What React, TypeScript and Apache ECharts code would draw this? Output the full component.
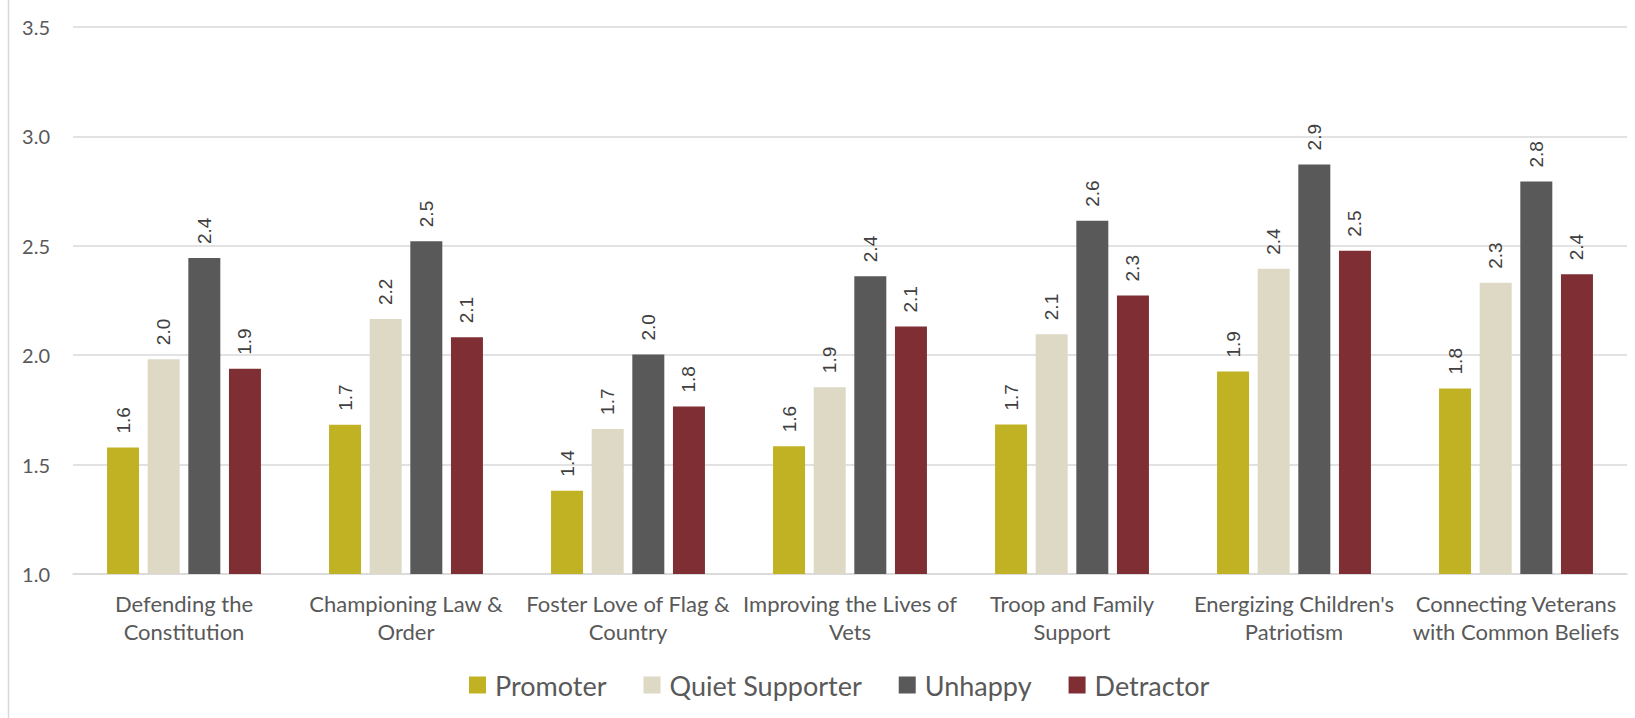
import React, { useEffect, useRef } from "react";
import * as echarts from "echarts";

const categories = [
  "Defending the\nConstitution",
  "Championing Law &\nOrder",
  "Foster Love of Flag &\nCountry",
  "Improving the Lives of\nVets",
  "Troop and Family\nSupport",
  "Energizing Children's\nPatriotism",
  "Connecting Veterans\nwith Common Beliefs",
];

const seriesNames = ["Promoter", "Quiet Supporter", "Unhappy", "Detractor"];

const promoter = [1.578, 1.682, 1.381, 1.584, 1.683, 1.925, 1.848];
const quietSupporter = [1.982, 2.165, 1.663, 1.854, 2.096, 2.395, 2.331];
const unhappy = [2.444, 2.521, 2.003, 2.361, 2.614, 2.872, 2.794];
const detractor = [1.938, 2.082, 1.765, 2.131, 2.273, 2.477, 2.37];

const seriesValues = [promoter, quietSupporter, unhappy, detractor];
const seriesColors = ["#C0B223", "#DDD9C4", "#595959", "#7F2E34"];

const yTicks = { min: 1.0, max: 3.5, interval: 0.5 };

export default function App() {
  const ref = useRef<HTMLDivElement>(null);

  useEffect(() => {
    if (!ref.current) return;
    const chart = echarts.init(ref.current, null, { renderer: "svg" });
    const option = {
      animation: false,
      backgroundColor: "#FFFFFF",
      grid: { left: 73, right: 8, top: 27, bottom: 144, containLabel: false },
      legend: {
        data: seriesNames,
        left: 464,
        top: 665,
        itemWidth: 17,
        itemHeight: 17,
        itemGap: 37,
        icon: "rect",
        textStyle: {
          fontFamily: "Lato",
          fontSize: 27,
          color: "#595959",
          padding: [0, 0, 0, 4],
          lineHeight: 30,
        },
      },
      xAxis: {
        type: "category",
        data: categories,
        axisTick: { show: false },
        axisLine: { show: true, lineStyle: { color: "#D9D9D9", width: 1.5 } },
        axisLabel: {
          interval: 0,
          margin: 15,
          fontFamily: "Lato",
          fontSize: 22,
          lineHeight: 28,
          color: "#595959",
        },
      },
      yAxis: {
        type: "value",
        min: yTicks.min,
        max: yTicks.max,
        interval: yTicks.interval,
        axisLine: { show: false },
        axisTick: { show: false },
        splitLine: { lineStyle: { color: "#D9D9D9", width: 1.5 } },
        axisLabel: {
          margin: 23,
          fontFamily: "Lato",
          fontSize: 20,
          color: "#595959",
          formatter: (v: number) => v.toFixed(1),
        },
      },
      graphic: [
        {
          type: "line",
          shape: { x1: 8.5, y1: 0, x2: 8.5, y2: 718 },
          style: { stroke: "#D9D9D9", lineWidth: 1.5 },
          silent: true,
        },
      ],
      series: seriesNames.map((name, i) => ({
        name,
        type: "bar",
        data: seriesValues[i],
        barWidth: 32,
        barGap: "27%",
        itemStyle: { color: seriesColors[i] },
        label: {
          show: true,
          position: "top",
          rotate: 90,
          align: "left",
          verticalAlign: "middle",
          distance: 14,
          fontFamily: "Liberation Sans",
          fontSize: 19,
          color: "#404040",
          formatter: (p: any) => Number(p.value).toFixed(1),
        },
      })),
    };
    chart.setOption(option as any);
    return () => chart.dispose();
  }, []);

  return (
    <div
      ref={ref}
      style={{ position: "fixed", left: 0, top: 0, width: 1635, height: 718, background: "#fff" }}
    />
  );
}
